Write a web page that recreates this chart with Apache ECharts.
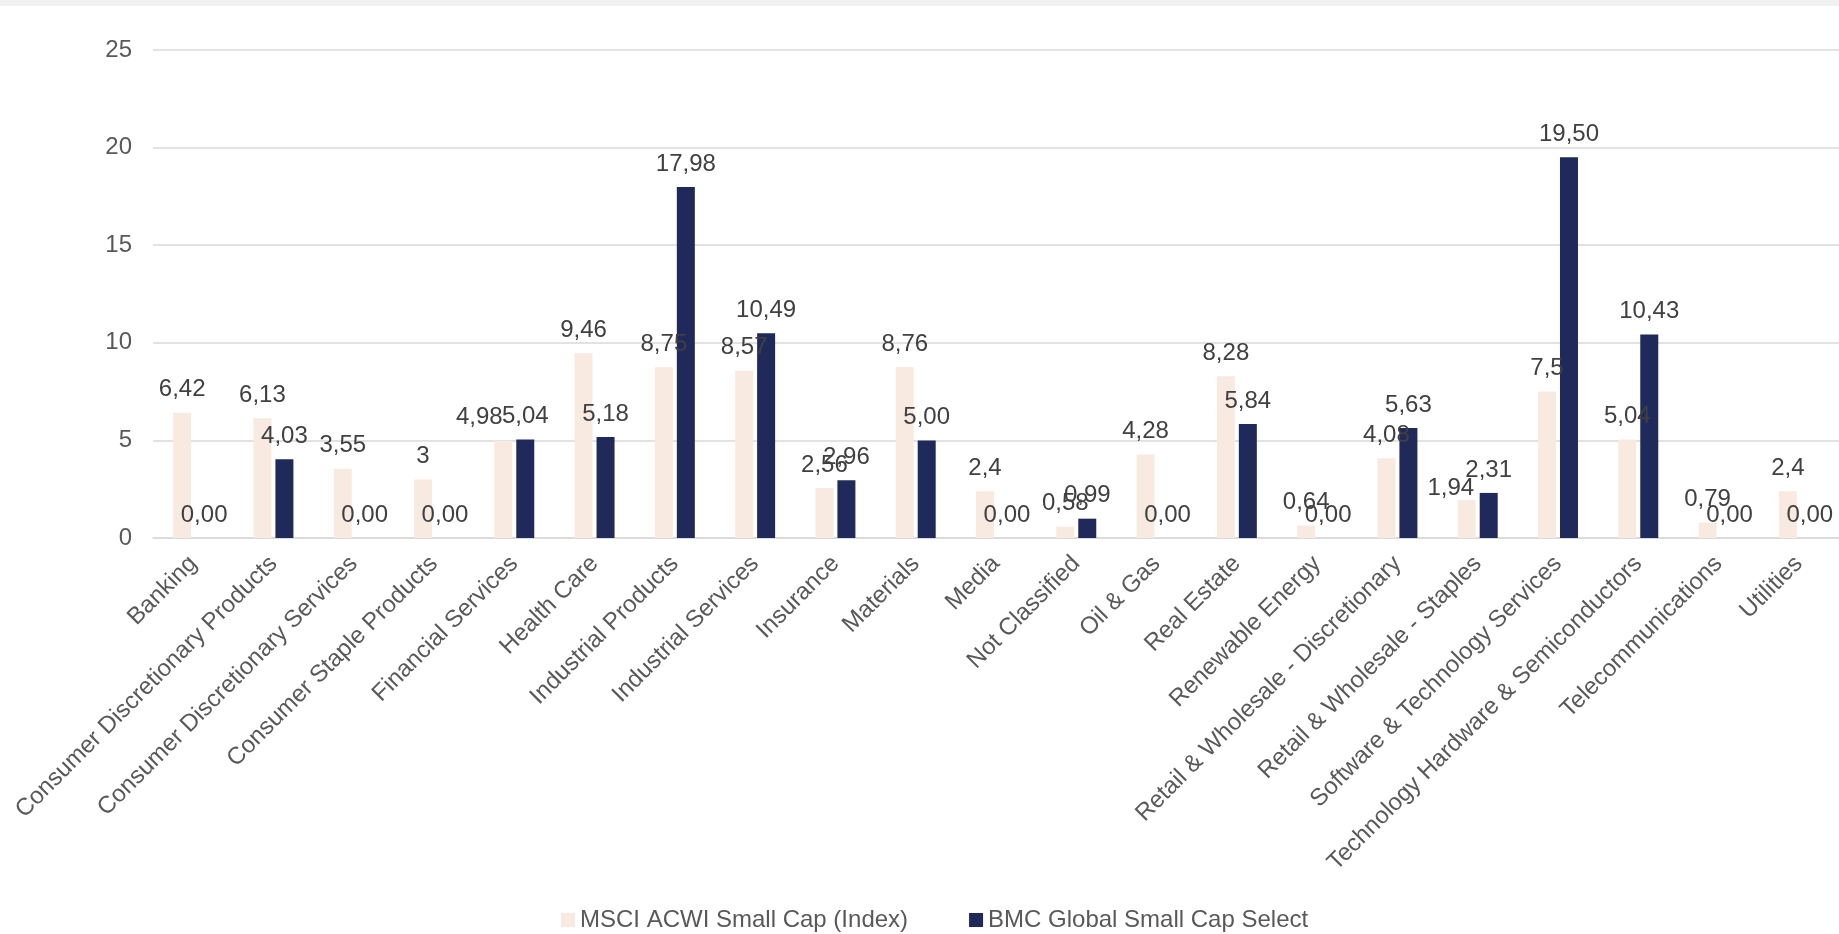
<!DOCTYPE html>
<html>
<head>
<meta charset="utf-8">
<title>Sector weights</title>
<script src="https://cdn.jsdelivr.net/npm/echarts@6/dist/echarts.min.js"></script>
<style>
  html, body { margin: 0; padding: 0; background: #ffffff; }
  #chart { width: 1839px; height: 934px; }
</style>
</head>
<body>
<div id="chart"></div>
<script>
// Sector categories along the x axis
const sectors = [
  'Banking',
  'Consumer Discretionary Products',
  'Consumer Discretionary Services',
  'Consumer Staple Products',
  'Financial Services',
  'Health Care',
  'Industrial Products',
  'Industrial Services',
  'Insurance',
  'Materials',
  'Media',
  'Not Classified',
  'Oil & Gas',
  'Real Estate',
  'Renewable Energy',
  'Retail & Wholesale - Discretionary',
  'Retail & Wholesale - Staples',
  'Software & Technology Services',
  'Technology Hardware & Semiconductors',
  'Telecommunications',
  'Utilities'
];

// Weight (%) per sector, index
const msciWeights = [6.42, 6.13, 3.55, 3, 4.98, 9.46, 8.75, 8.57, 2.56, 8.76, 2.4,
                     0.58, 4.28, 8.28, 0.64, 4.08, 1.94, 7.5, 5.04, 0.79, 2.4];

// Weight (%) per sector, fund
const bmcWeights = [0.00, 4.03, 0.00, 0.00, 5.04, 5.18, 17.98, 10.49, 2.96, 5.00, 0.00,
                    0.99, 0.00, 5.84, 0.00, 5.63, 2.31, 19.50, 10.43, 0.00, 0.00];

const seriesNames = ['MSCI ACWI Small Cap (Index)', 'BMC Global Small Cap Select'];
const yTicks = { min: 0, max: 25, step: 5 };

const FONT = "'Liberation Sans', Arial, sans-serif";
const comma = s => s.replace('.', ',');

// A couple of index labels are nudged aside so they don't sit on their neighbours
const msciLabelNudge = { 4: [-24, 0], 16: [-16, 11] };

const msciData = msciWeights.map((v, i) =>
  msciLabelNudge[i] ? { value: v, label: { offset: msciLabelNudge[i] } } : v
);

const chart = echarts.init(document.getElementById('chart'), null, { renderer: 'canvas' });

const labelStyle = {
  show: true,
  position: 'top',
  distance: 11,
  color: '#404040',
  fontFamily: FONT,
  fontSize: 24
};

chart.setOption({
  animation: false,
  backgroundColor: '#ffffff',
  textStyle: { fontFamily: FONT },
  graphic: [{
    type: 'rect',
    left: 0, top: 0,
    shape: { width: 1839, height: 6 },
    style: { fill: '#f1f1f1' },
    silent: true
  }],
  grid: { left: 153, right: 0, top: 50, bottom: 396, containLabel: false },
  legend: {
    left: 556,
    top: 903,
    itemWidth: 14,
    itemHeight: 14,
    itemGap: 61,
    icon: 'rect',
    textStyle: { color: '#595959', fontSize: 24, fontFamily: FONT },
    data: seriesNames
  },
  xAxis: {
    type: 'category',
    data: sectors,
    axisLine: { show: true, lineStyle: { color: '#d9d9d9', width: 1.5 } },
    axisTick: { show: false },
    axisLabel: {
      interval: 0,
      rotate: 45,
      margin: 22,
      color: '#595959',
      fontSize: 24,
      fontFamily: FONT
    }
  },
  yAxis: {
    type: 'value',
    min: yTicks.min,
    max: yTicks.max,
    interval: yTicks.step,
    axisLine: { show: false },
    axisTick: { show: false },
    splitLine: { lineStyle: { color: '#d9d9d9', width: 1.5 } },
    axisLabel: {
      margin: 21,
      color: '#595959',
      fontSize: 24,
      fontFamily: FONT
    }
  },
  series: [
    {
      name: seriesNames[0],
      type: 'bar',
      data: msciData,
      barWidth: 18,
      barGap: '22%',
      itemStyle: { color: '#f8eae1' },
      label: Object.assign({}, labelStyle, {
        formatter: p => comma(String(p.value))
      })
    },
    {
      name: seriesNames[1],
      type: 'bar',
      data: bmcWeights,
      barWidth: 18,
      barGap: '22%',
      itemStyle: { color: '#1f2a5b' },
      label: Object.assign({}, labelStyle, {
        formatter: p => comma(Number(p.value).toFixed(2))
      })
    }
  ]
});
</script>
</body>
</html>
